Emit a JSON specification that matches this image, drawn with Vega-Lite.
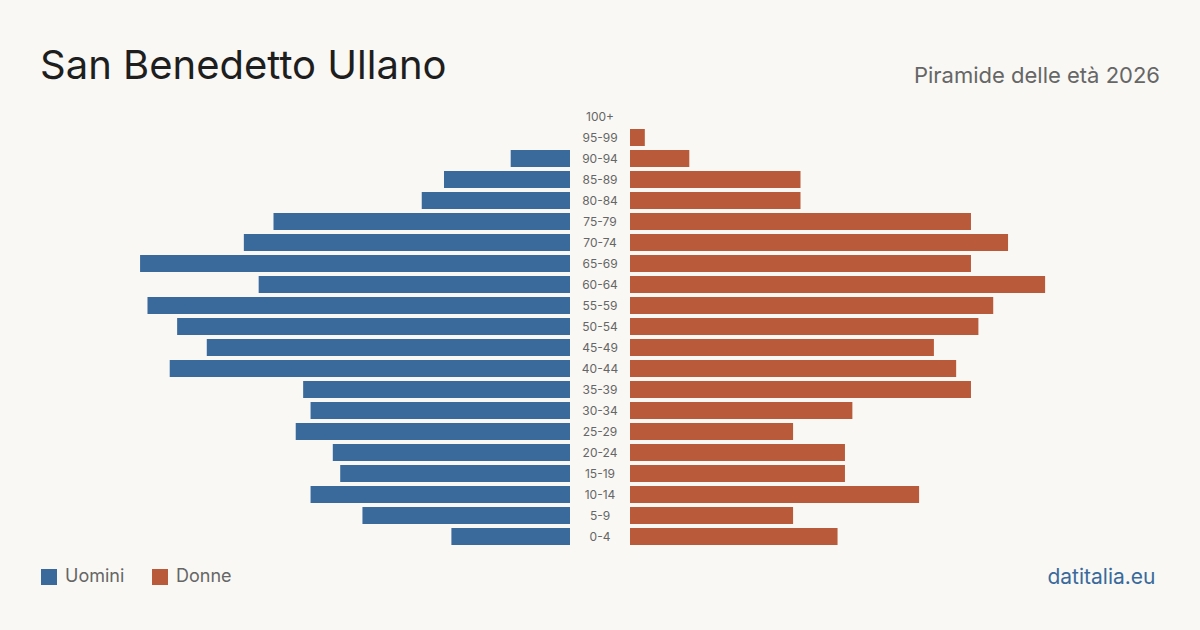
{
  "$schema": "https://vega.github.io/schema/vega-lite/v6.json",
  "background": "#f9f8f4",
  "padding": {"left": 40, "right": 40, "top": 46, "bottom": 45},
  "config": {"view": {"stroke": null}, "font": "Inter"},
  "title": {"text": "San Benedetto Ullano", "anchor": "start", "frame": "group", "fontSize": 40, "fontWeight": "normal", "color": "#1e1e1e", "font": "Inter", "offset": -21.5},
  "data": {"values": [
    {"age": "100+", "sex": "Uomini", "value": 0}, {"age": "100+", "sex": "Donne", "value": 0},
    {"age": "95-99", "sex": "Uomini", "value": 0}, {"age": "95-99", "sex": "Donne", "value": 2},
    {"age": "90-94", "sex": "Uomini", "value": 8}, {"age": "90-94", "sex": "Donne", "value": 8},
    {"age": "85-89", "sex": "Uomini", "value": 17}, {"age": "85-89", "sex": "Donne", "value": 23},
    {"age": "80-84", "sex": "Uomini", "value": 20}, {"age": "80-84", "sex": "Donne", "value": 23},
    {"age": "75-79", "sex": "Uomini", "value": 40}, {"age": "75-79", "sex": "Donne", "value": 46},
    {"age": "70-74", "sex": "Uomini", "value": 44}, {"age": "70-74", "sex": "Donne", "value": 51},
    {"age": "65-69", "sex": "Uomini", "value": 58}, {"age": "65-69", "sex": "Donne", "value": 46},
    {"age": "60-64", "sex": "Uomini", "value": 42}, {"age": "60-64", "sex": "Donne", "value": 56},
    {"age": "55-59", "sex": "Uomini", "value": 57}, {"age": "55-59", "sex": "Donne", "value": 49},
    {"age": "50-54", "sex": "Uomini", "value": 53}, {"age": "50-54", "sex": "Donne", "value": 47},
    {"age": "45-49", "sex": "Uomini", "value": 49}, {"age": "45-49", "sex": "Donne", "value": 41},
    {"age": "40-44", "sex": "Uomini", "value": 54}, {"age": "40-44", "sex": "Donne", "value": 44},
    {"age": "35-39", "sex": "Uomini", "value": 36}, {"age": "35-39", "sex": "Donne", "value": 46},
    {"age": "30-34", "sex": "Uomini", "value": 35}, {"age": "30-34", "sex": "Donne", "value": 30},
    {"age": "25-29", "sex": "Uomini", "value": 37}, {"age": "25-29", "sex": "Donne", "value": 22},
    {"age": "20-24", "sex": "Uomini", "value": 32}, {"age": "20-24", "sex": "Donne", "value": 29},
    {"age": "15-19", "sex": "Uomini", "value": 31}, {"age": "15-19", "sex": "Donne", "value": 29},
    {"age": "10-14", "sex": "Uomini", "value": 35}, {"age": "10-14", "sex": "Donne", "value": 39},
    {"age": "5-9", "sex": "Uomini", "value": 28}, {"age": "5-9", "sex": "Donne", "value": 22},
    {"age": "0-4", "sex": "Uomini", "value": 16}, {"age": "0-4", "sex": "Donne", "value": 28}
  ]},
  "spacing": 0,
  "hconcat": [
    {
      "width": 530, "height": 441,
      "transform": [{"filter": "datum.sex === 'Uomini'"}],
      "mark": {"type": "bar"},
      "encoding": {
        "y": {"field": "age", "type": "ordinal", "sort": ["100+","95-99","90-94","85-89","80-84","75-79","70-74","65-69","60-64","55-59","50-54","45-49","40-44","35-39","30-34","25-29","20-24","15-19","10-14","5-9","0-4"], "axis": null, "scale": {"paddingInner": 0.19, "paddingOuter": 0.095}},
        "x": {"field": "value", "type": "quantitative", "axis": null, "scale": {"domain": [0, 71.5], "nice": false, "reverse": true}},
        "color": {"field": "sex", "type": "nominal", "scale": {"domain": ["Uomini", "Donne"], "range": ["#3a6a9b", "#b95b3b"]},
          "legend": {"title": null, "orient": "none", "legendX": 0, "legendY": 462, "direction": "horizontal", "symbolType": "square", "symbolSize": 256, "symbolStrokeWidth": 0, "labelFontSize": 18, "labelColor": "#666666", "labelFont": "Inter", "labelOffset": 7, "columnPadding": 26}}
      }
    },
    {
      "width": 60, "height": 441,
      "transform": [{"filter": "datum.sex === 'Uomini'"}],
      "mark": {"type": "text", "fontSize": 12, "color": "#666666", "font": "Inter"},
      "encoding": {
        "y": {"field": "age", "type": "ordinal", "sort": ["100+","95-99","90-94","85-89","80-84","75-79","70-74","65-69","60-64","55-59","50-54","45-49","40-44","35-39","30-34","25-29","20-24","15-19","10-14","5-9","0-4"], "axis": null, "scale": {"paddingInner": 0.19, "paddingOuter": 0.095}},
        "text": {"field": "age"}
      }
    },
    {
      "width": 530, "height": 441,
      "title": {"text": "Piramide delle età 2026", "anchor": "end", "fontSize": 22, "fontWeight": "normal", "color": "#666666", "font": "Inter", "offset": 18},
      "transform": [{"filter": "datum.sex === 'Donne'"}],
      "mark": {"type": "bar"},
      "encoding": {
        "y": {"field": "age", "type": "ordinal", "sort": ["100+","95-99","90-94","85-89","80-84","75-79","70-74","65-69","60-64","55-59","50-54","45-49","40-44","35-39","30-34","25-29","20-24","15-19","10-14","5-9","0-4"], "axis": null, "scale": {"paddingInner": 0.19, "paddingOuter": 0.095}},
        "x": {"field": "value", "type": "quantitative", "scale": {"domain": [0, 71.5], "nice": false},
          "axis": {"domain": false, "ticks": false, "labels": false, "grid": false, "title": "datitalia.eu", "titleX": 525, "titleAlign": "right", "titleFontSize": 21, "titleFontWeight": "normal", "titleColor": "#3a6a9b", "titleFont": "Inter", "titlePadding": 19}},
        "color": {"field": "sex", "type": "nominal", "scale": {"domain": ["Uomini", "Donne"], "range": ["#3a6a9b", "#b95b3b"]}}
      }
    }
  ]
}
